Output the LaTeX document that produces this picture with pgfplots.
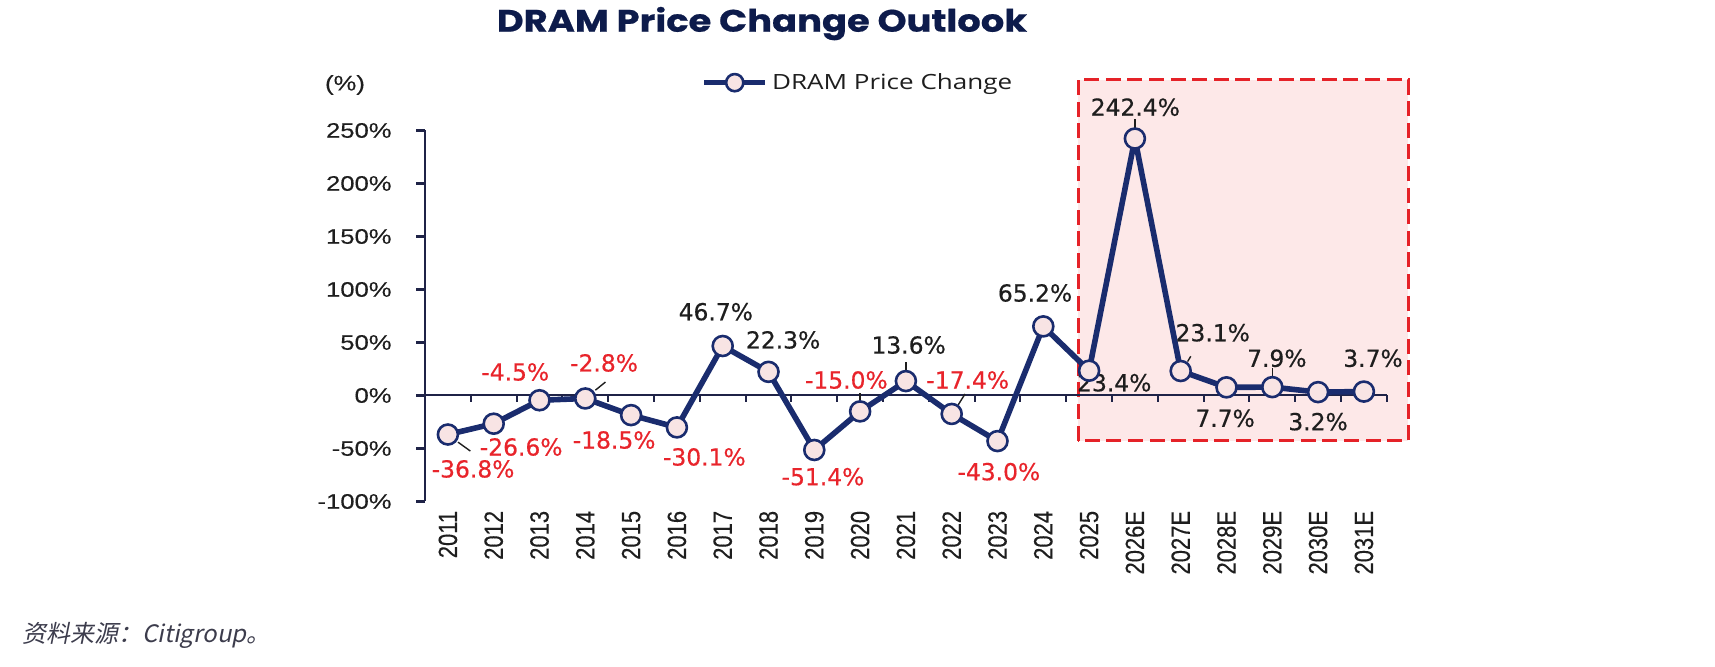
\documentclass[border=0pt]{standalone}
\usepackage{pgfplots}
\pgfplotsset{compat=1.18}
\usepackage{fontspec}
\setmainfont{Liberation Sans}[FakeStretch=1.22, FakeBold=0.3]
\newfontfamily\plainfont{Liberation Sans}[FakeBold=0.3]
\newfontfamily\labfont{DejaVu Sans}[FakeBold=0.5]
\newfontfamily\legfont{Open Sans}[FakeStretch=1.24]
\newfontfamily\titlefont{Poppins}[FakeStretch=1.19, FakeBold=0.6]
\newfontfamily\cjk{Noto Sans CJK SC}[FakeSlant=0.2]
\definecolor{navy}{HTML}{1A2C6E}
\definecolor{axisc}{HTML}{1F2347}
\definecolor{titlenavy}{HTML}{0D1B4B}
\definecolor{lred}{HTML}{E8242B}
\definecolor{boxred}{HTML}{E52228}
\definecolor{boxfill}{HTML}{FDE8E8}
\definecolor{mfill}{HTML}{F8E4E4}
\definecolor{txt}{HTML}{1E1E1E}
\definecolor{notec}{HTML}{3C3C4C}
\tikzset{lab/.style={font=\labfont\fontsize{11.7}{13}\selectfont, inner sep=0pt}}
\begin{document}
\begin{tikzpicture}
\path[use as bounding box] (0pt,0pt) rectangle (857.5pt,-333.5pt);
\node[anchor=base, font=\titlefont\bfseries\fontsize{15.5}{18}\selectfont, text=titlenavy, inner sep=0pt] at (381pt,-15.85pt) {DRAM Price Change Outlook};
\node[font=\fontsize{10.5}{12}\selectfont, text=txt, inner sep=0pt] at (172.5pt,-42.5pt) {(\%)};
\node[anchor=west, font=\cjk\fontsize{12}{14}\selectfont, text=notec, inner sep=0pt] at (11pt,-317.5pt) {资料来源：Citigroup。};
\begin{axis}[
  at={(212.5pt,-250.75pt)}, anchor=south west,
  scale only axis, width=480.9pt, height=185.5pt,
  xmin=-0.5, xmax=20.5, ymin=-100, ymax=250,
  clip=false,
  axis y line*=left, axis x line*=bottom,
  x axis line style={draw=none},
  y axis line style={draw=axisc, line width=1.2pt},
  xtick={0,...,20},
  xticklabels={2011,2012,2013,2014,2015,2016,2017,2018,2019,2020,2021,2022,2023,2024,2025,2026E,2027E,2028E,2029E,2030E,2031E},
  xtick style={draw=none},
  xticklabel style={xscale=1.2, rotate=90, anchor=east, inner sep=0pt, font=\plainfont\fontsize{11}{12}\selectfont, text=txt},
  ytick={-100,-50,0,50,100,150,200,250},
  yticklabels={-100\%,-50\%,0\%,50\%,100\%,150\%,200\%,250\%},
  ytick style={draw=axisc, line width=1.2pt},
  tick align=outside, major tick length=4.5pt,
  yticklabel style={anchor=east, inner sep=0pt, font=\fontsize{10.5}{12}\selectfont, text=txt, xshift=-12pt},
  legend style={at={(0.287,1.129)}, anchor=west, draw=none, fill=none, inner sep=0pt,
    font=\legfont\fontsize{10.5}{12}\selectfont, text=txt, nodes={inner sep=2pt}},
  legend image code/.code={\draw[#1, mark size=4.3pt, mark repeat=2, mark phase=2] plot coordinates {(0pt,0pt) (15.25pt,0pt) (30.5pt,0pt)};},
]
% highlighted forecast region
\draw[boxred, line width=1.6pt, dash pattern=on 7.5pt off 3.3pt, fill=boxfill] (axis cs:13.76,-42.6) rectangle (axis cs:20.97,298);
% zero line with ticks between categories
\draw[axisc, line width=1pt] (axis cs:-0.5,0) -- (axis cs:20.5,0);
\pgfplotsinvokeforeach{0,...,20}{\draw[axisc, line width=1pt] (axis cs:#1.5,0) -- ++(0pt,-3.5pt);}
% leader lines
\draw[txt, line width=0.7pt] (axis cs:0.22,-44) -- (axis cs:0.49,-52.4);
\draw[txt, line width=0.7pt] (axis cs:3.22,5) -- (axis cs:3.44,12.7);
\draw[txt, line width=0.7pt] (axis cs:9,-6) -- (axis cs:9,2.4);
\draw[txt, line width=0.7pt] (axis cs:10,22) -- (axis cs:10,32);
\draw[txt, line width=0.7pt] (axis cs:11.14,-9) -- (axis cs:11.29,1.4);
\draw[txt, line width=0.7pt] (axis cs:15,251) -- (axis cs:15,261);
\draw[txt, line width=0.7pt] (axis cs:16.15,32) -- (axis cs:16.22,37);
\draw[txt, line width=0.7pt] (axis cs:18,17) -- (axis cs:18,26);
\addplot[draw=navy, line width=2.8pt, line join=round, mark=*, mark size=5pt,
  mark options={fill=mfill, draw=navy, line width=1.3pt, solid}]
  coordinates {(0,-36.8) (1,-26.6) (2,-4.5) (3,-2.8) (4,-18.5) (5,-30.1) (6,46.7) (7,22.3) (8,-51.4) (9,-15.0) (10,13.6) (11,-17.4) (12,-43.0) (13,65.2) (14,23.4) (15,242.4) (16,23.1) (17,7.7) (18,7.9) (19,3.2) (20,3.7)};
\addlegendentry{DRAM Price Change}
% data labels
\node[lab, text=lred] at (axis cs:0.55,-69.3) {-36.8\%};
\node[lab, text=lred] at (axis cs:1.60,-48.6) {-26.6\%};
\node[lab, text=lred] at (axis cs:1.47,22.2) {-4.5\%};
\node[lab, text=lred] at (axis cs:3.41,30.7) {-2.8\%};
\node[lab, text=lred] at (axis cs:3.63,-42.0) {-18.5\%};
\node[lab, text=lred] at (axis cs:5.60,-58.0) {-30.1\%};
\node[lab, text=txt] at (axis cs:5.85,79) {46.7\%};
\node[lab, text=txt] at (axis cs:7.32,52.4) {22.3\%};
\node[lab, text=lred] at (axis cs:8.19,-76.6) {-51.4\%};
\node[lab, text=lred] at (axis cs:8.70,14.6) {-15.0\%};
\node[lab, text=txt] at (axis cs:10.06,47.6) {13.6\%};
\node[lab, text=lred] at (axis cs:11.35,14.6) {-17.4\%};
\node[lab, text=lred] at (axis cs:12.03,-71.9) {-43.0\%};
\node[lab, text=txt] at (axis cs:12.82,96.7) {65.2\%};
\node[lab, text=txt] at (axis cs:14.55,12) {23.4\%};
\node[lab, text=txt] at (axis cs:15.01,272) {242.4\%};
\node[lab, text=txt] at (axis cs:16.70,59.2) {23.1\%};
\node[lab, text=txt] at (axis cs:16.97,-21.5) {7.7\%};
\node[lab, text=txt] at (axis cs:18.10,35.1) {7.9\%};
\node[lab, text=txt] at (axis cs:19.0,-24.7) {3.2\%};
\node[lab, text=txt] at (axis cs:20.20,35.1) {3.7\%};
\end{axis}
\end{tikzpicture}
\end{document}
